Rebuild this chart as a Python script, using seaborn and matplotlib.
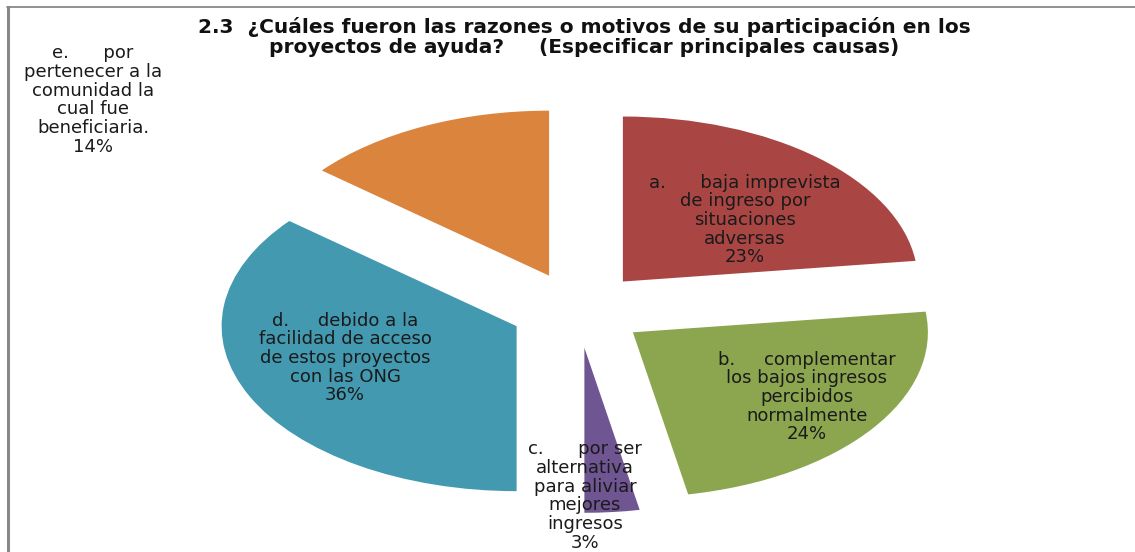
import numpy as np
import seaborn as sns
import matplotlib
matplotlib.use("Agg")
import matplotlib.pyplot as plt
from matplotlib.lines import Line2D

# === Data ===
categories = [
    "a.      baja imprevista\nde ingreso por\nsituaciones\nadversas",
    "b.     complementar\nlos bajos ingresos\npercibidos\nnormalmente",
    "c.      por ser\nalternativa\npara aliviar\nmejores\ningresos",
    "d.     debido a la\nfacilidad de acceso\nde estos proyectos\ncon las ONG",
    "e.      por\npertenecer a la\ncomunidad la\ncual fue\nbeneficiaria.",
]
values = [23, 24, 3, 36, 14]
colors = ["#A94644", "#8BA64E", "#6F5591", "#4299B0", "#DB843D"]

title = ("2.3  ¿Cuáles fueron las razones o motivos de su participación en los\n"
         "proyectos de ayuda?     (Especificar principales causas)")

labels = [f"{c}\n{v}%" for c, v in zip(categories, values)]

# === Style ===
sns.set_style("white")
plt.rcParams["font.family"] = ["DejaVu Sans"]

W, H = 1135, 552
fig = plt.figure(figsize=(W / 100, H / 100), dpi=100)
ax = fig.add_axes([0, 0, 1, 1])

# pixel layout of the flattened pie
cx, cy, rx, ry = 578, 310, 295, 165

wedges, texts = ax.pie(
    values,
    labels=labels,
    colors=colors,
    startangle=90,
    counterclock=False,
    explode=[0.23] * len(values),
    labeldistance=0.55,
    textprops=dict(fontsize=13, color="#1a1a1a", ha="center", va="center",
                   linespacing=1.05),
    wedgeprops=dict(linewidth=0),
)

# label centres in pixels (layout only)
label_px = [(745, 220), (807, 397), (585, 496), (345, 358), (93, 100)]
for t, (px, py) in zip(texts, label_px):
    t.set_position(((px - cx) / rx, (cy - py) / ry))
    t.set_ha("center")
    t.set_va("center")
    t.set_multialignment("center")

ax.set_aspect("auto")
ax.set_xlim(-cx / rx, (W - cx) / rx)
ax.set_ylim(-(H - cy) / ry, cy / ry)
ax.axis("off")

fig.text(584 / W, 1 - 37 / H, title, ha="center", va="center",
         fontsize=14.5, fontweight="bold", family=["DejaVu Sans"],
         linespacing=1.02, color="#111111")

# chart border (left and top)
fig.add_artist(Line2D([8 / W, 8 / W], [0, 1 - 7 / H], transform=fig.transFigure,
                      color="#888888", linewidth=2.2))
fig.add_artist(Line2D([7 / W, 1], [1 - 7 / H, 1 - 7 / H], transform=fig.transFigure,
                      color="#888888", linewidth=1.3))

fig.savefig("out.png", dpi=100)
